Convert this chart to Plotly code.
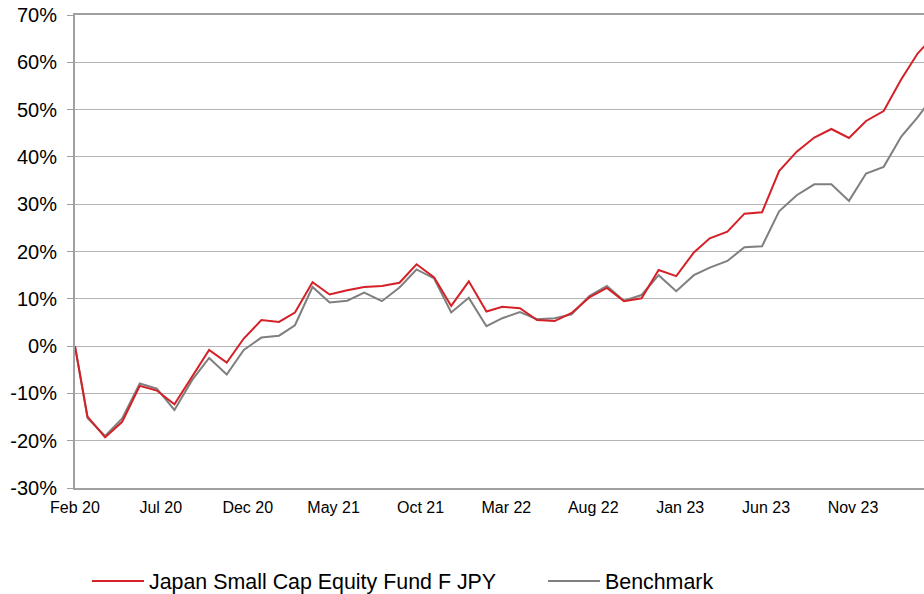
import plotly.graph_objects as go

dates = [
    "2020-02-07", "2020-02-29", "2020-03-31", "2020-04-30", "2020-05-31", "2020-06-30",
    "2020-07-31", "2020-08-31", "2020-09-30", "2020-10-31", "2020-11-30", "2020-12-31",
    "2021-01-31", "2021-02-28", "2021-03-31", "2021-04-30", "2021-05-31", "2021-06-30",
    "2021-07-31", "2021-08-31", "2021-09-30", "2021-10-31", "2021-11-30", "2021-12-31",
    "2022-01-31", "2022-02-28", "2022-03-31", "2022-04-30", "2022-05-31", "2022-06-30",
    "2022-07-31", "2022-08-31", "2022-09-30", "2022-10-31", "2022-11-30", "2022-12-31",
    "2023-01-31", "2023-02-28", "2023-03-31", "2023-04-30", "2023-05-31", "2023-06-30",
    "2023-07-31", "2023-08-31", "2023-09-30", "2023-10-31", "2023-11-30", "2023-12-31",
    "2024-01-31", "2024-02-29", "2024-03-31",
]

fund = [0, -14.9, -19.3, -16.0, -8.4, -9.4, -12.3, -6.5, -0.8, -3.5, 1.6,
        5.5, 5.1, 7.1, 13.5, 10.9, 11.8, 12.5, 12.7, 13.4, 17.3,
        14.5, 8.5, 13.7, 7.3, 8.3, 8.0, 5.5, 5.3, 7.0, 10.3,
        12.3, 9.5, 10.1, 16.1, 14.8, 19.8, 22.8, 24.2, 28.0, 28.3,
        37.0, 41.1, 44.1, 45.9, 44.0, 47.6, 49.7, 56.4, 61.9, 65.9]

benchmark = [0, -15.2, -19.0, -15.3, -7.9, -9.0, -13.5, -7.2, -2.5, -6.0, -0.8,
             1.8, 2.2, 4.4, 12.5, 9.2, 9.6, 11.3, 9.5, 12.4, 16.2,
             14.3, 7.1, 10.2, 4.2, 5.9, 7.2, 5.7, 5.9, 6.7, 10.6,
             12.7, 9.6, 10.8, 15.0, 11.6, 15.0, 16.6, 18.0, 20.9, 21.1,
             28.5, 31.9, 34.2, 34.2, 30.7, 36.5, 37.9, 44.3, 48.4, 53.4]

tick_dates = ["2020-02-07", "2020-07-07", "2020-12-07", "2021-05-07", "2021-10-07",
              "2022-03-07", "2022-08-07", "2023-01-07", "2023-06-07", "2023-11-07"]
tick_labels = ["Feb 20", "Jul 20", "Dec 20", "May 21", "Oct 21",
               "Mar 22", "Aug 22", "Jan 23", "Jun 23", "Nov 23"]

y_ticks = [-30, -20, -10, 0, 10, 20, 30, 40, 50, 60, 70]
y_labels = [f"{v}%" for v in y_ticks]

FONT = "Arial, Liberation Sans, sans-serif"
GRID = "#b4b4b4"
AXIS = "#a0a0a0"

fig = go.Figure()
fig.add_trace(go.Scatter(x=dates, y=benchmark, mode="lines", name="Benchmark",
                         line=dict(color="#7f7f7f", width=2)))
fig.add_trace(go.Scatter(x=dates, y=fund, mode="lines", name="Japan Small Cap Equity Fund F JPY",
                         line=dict(color="#d42027", width=2), legendwidth=389))

fig.update_layout(
    width=924, height=594,
    margin=dict(l=75, r=0, t=15, b=106, autoexpand=False),
    paper_bgcolor="white", plot_bgcolor="white",
    font=dict(family=FONT, color="#000000"),
    showlegend=True,
    legend=dict(orientation="h", traceorder="reversed",
                x=0.0141, xanchor="left", y=-0.197, yanchor="middle",
                font=dict(size=21.4, family=FONT), itemwidth=52,
                bgcolor="rgba(0,0,0,0)"),
    xaxis=dict(type="date", range=["2020-02-07", "2024-03-11"], automargin=False,
               tickmode="array", tickvals=tick_dates, ticktext=tick_labels,
               tickfont=dict(size=16, family=FONT), ticks="", ticklabelstandoff=4,
               showgrid=False, zeroline=False,
               showline=True, linecolor=AXIS, linewidth=2, mirror=True),
    xaxis2=dict(type="date", overlaying="x", matches="x", anchor="free", position=0.3,
                automargin=False,
                tickmode="array", tickvals=tick_dates, ticktext=["" for _ in tick_labels],
                ticks="outside", ticklen=5, tickwidth=1, tickcolor=AXIS,
                showticklabels=False, showgrid=False, zeroline=False, showline=False),
    yaxis=dict(range=[-30, 70], tickmode="array", tickvals=y_ticks, ticktext=y_labels,
               automargin=False,
               tickfont=dict(size=20, family=FONT), ticks="outside", ticklen=6,
               tickcolor=AXIS, ticklabelstandoff=6,
               showgrid=True, gridcolor=GRID, gridwidth=1,
               zeroline=False, showline=True, linecolor=AXIS, linewidth=2),
)

fig.write_html("out.html", config={"displayModeBar": False},
               post_script="document.body.style.margin='0px';document.body.style.overflow='hidden';")
